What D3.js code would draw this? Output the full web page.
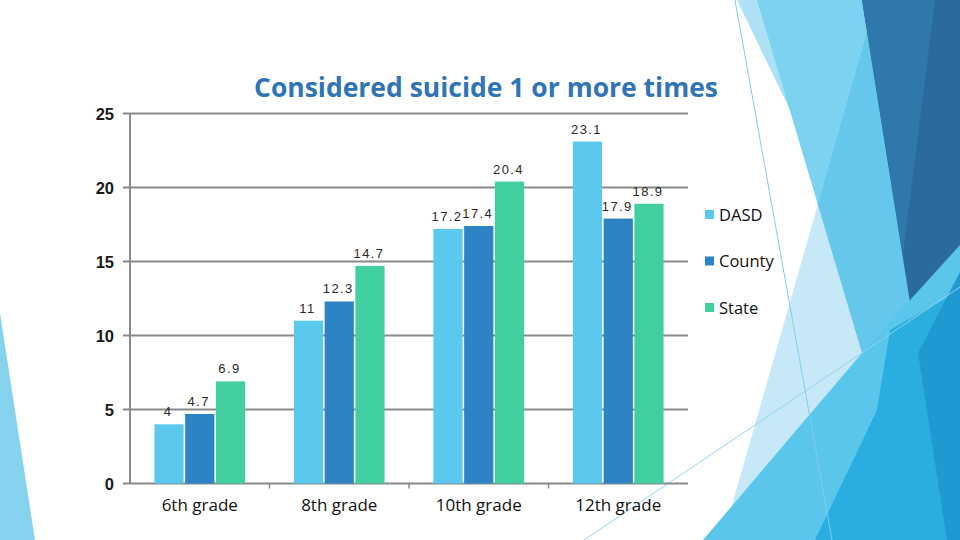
<!DOCTYPE html>
<html>
<head>
<meta charset="utf-8">
<script src="https://cdn.jsdelivr.net/npm/d3@7"></script>
<style>
  html, body { margin: 0; padding: 0; background: #ffffff; }
  svg { display: block; }
</style>
</head>
<body>
<svg id="chart" width="960" height="540"></svg>
<script>
// ---- data ----
const categories = ["6th grade", "8th grade", "10th grade", "12th grade"];
const seriesNames = ["DASD", "County", "State"];
const dasd   = [4, 11, 17.2, 23.1];
const county = [4.7, 12.3, 17.4, 17.9];
const state  = [6.9, 14.7, 20.4, 18.9];
const yTicks = [0, 5, 10, 15, 20, 25];
const titleText = "Considered suicide 1 or more times";

const seriesValues = [dasd, county, state];
const colors = ["#5BC8EE", "#2E83C4", "#41CFA0"];

const svg = d3.select("#chart");

// ---- decorative background (theme shapes) ----
const deco = svg.append("g");
const shapes = [
  { pts: [[0,313],[35,540],[0,540]], fill: "#86D3F0" },
  { pts: [[737,0],[760,0],[790,110]], fill: "#AEE1F5" },
  { pts: [[757,0],[880,0],[930,420],[862,353]], fill: "#7DD2F0" },
  { pts: [[872,15],[960,540],[722,540]], fill: "#28AAE2", op: 0.26 },
  { pts: [[862,0],[960,0],[960,272],[918,353]], fill: "#2A6A9C" },
  { pts: [[862,0],[935,0],[903,255]], fill: "#2F78AC" },
  { pts: [[703,540],[862,353],[960,245],[960,540]], fill: "#5BC6EC" },
  { pts: [[815,540],[877,410],[890,330],[960,290],[960,540]], fill: "#2AAEE0" },
  { pts: [[918,353],[960,272],[960,540],[947,540]], fill: "#1E9AD0" }
];
shapes.forEach(s => {
  deco.append("polygon")
    .attr("points", s.pts.map(p => p.join(",")).join(" "))
    .attr("fill", s.fill)
    .attr("fill-opacity", s.op || 1);
});
deco.append("line").attr("x1", 735).attr("y1", 0).attr("x2", 832).attr("y2", 540)
  .attr("stroke", "#7FCDEA").attr("stroke-width", 1);
deco.append("line").attr("x1", 584).attr("y1", 540).attr("x2", 960).attr("y2", 287)
  .attr("stroke", "#8FD3EE").attr("stroke-width", 1);

// ---- scales ----
const plotLeft = 130, plotRight = 688, plotTop = 113.5, plotBottom = 483.5;
const x0 = d3.scaleBand().domain(categories).range([plotLeft, plotRight])
  .paddingInner(0.35).paddingOuter(0.175);
const x1 = d3.scaleBand().domain(seriesNames).range([0, x0.bandwidth()])
  .paddingInner(0.05);
const y = d3.scaleLinear().domain([0, 25]).range([plotBottom, plotTop]);

// ---- gridlines ----
const g = svg.append("g");
g.selectAll("line.grid").data(yTicks).join("line")
  .attr("class", "grid")
  .attr("x1", plotLeft - 7).attr("x2", plotRight)
  .attr("y1", d => y(d)).attr("y2", d => y(d))
  .attr("stroke", "#898989").attr("stroke-width", 2);

// vertical axis line
g.append("line").attr("x1", plotLeft).attr("x2", plotLeft)
  .attr("y1", y(25)).attr("y2", y(0))
  .attr("stroke", "#898989").attr("stroke-width", 2);

// y tick labels
g.selectAll("text.ytick").data(yTicks).join("text")
  .attr("class", "ytick")
  .attr("x", plotLeft - 16).attr("y", d => y(d) + 6)
  .attr("text-anchor", "end")
  .attr("font-family", "Liberation Sans, Arial, sans-serif")
  .attr("font-size", 16.5).attr("font-weight", "bold")
  .attr("fill", "#1a1a1a")
  .text(d => d);

// x tick marks between categories
const boundaries = categories.slice(1).map(c => x0(c) - x0.step() * x0.paddingInner() / 2);
g.selectAll("line.xtick").data(boundaries).join("line")
  .attr("class", "xtick")
  .attr("x1", d => d).attr("x2", d => d)
  .attr("y1", y(0)).attr("y2", y(0) + 5)
  .attr("stroke", "#898989").attr("stroke-width", 1.5);

// ---- bars ----
const groups = svg.append("g").selectAll("g.cat").data(categories).join("g")
  .attr("class", "cat")
  .attr("transform", c => `translate(${x0(c)},0)`);

groups.each(function(c, ci) {
  const grp = d3.select(this);
  seriesNames.forEach((s, si) => {
    const v = seriesValues[si][ci];
    grp.append("rect")
      .attr("x", x1(s))
      .attr("y", y(v))
      .attr("width", x1.bandwidth())
      .attr("height", y(0) - y(v))
      .attr("fill", colors[si]);
    grp.append("text")
      .attr("x", x1(s) + x1.bandwidth() / 2 - 1)
      .attr("y", y(v) - 8)
      .attr("text-anchor", "middle")
      .attr("font-family", "Liberation Sans, Arial, sans-serif")
      .attr("font-size", 13)
      .attr("letter-spacing", 1.4)
      .attr("fill", "#2a2a2a")
      .text(v);
  });
});

// category labels
svg.append("g").selectAll("text.catlabel").data(categories).join("text")
  .attr("class", "catlabel")
  .attr("x", c => x0(c) + x0.bandwidth() / 2)
  .attr("y", 511)
  .attr("text-anchor", "middle")
  .attr("font-family", "Open Sans, sans-serif")
  .attr("font-size", 17)
  .attr("fill", "#111")
  .text(c => c);

// ---- title ----
svg.append("text")
  .attr("x", 486).attr("y", 97)
  .attr("text-anchor", "middle")
  .attr("font-family", "Open Sans, sans-serif")
  .attr("font-size", 26).attr("font-weight", "bold")
  .attr("fill", "#2F74B5")
  .attr("textLength", 464).attr("lengthAdjust", "spacingAndGlyphs")
  .text(titleText);

// ---- legend ----
const legend = svg.append("g").selectAll("g.leg").data(seriesNames).join("g")
  .attr("class", "leg")
  .attr("transform", (d, i) => `translate(705,${210 + i * 46.5})`);
legend.append("rect").attr("width", 9).attr("height", 9)
  .attr("fill", (d, i) => colors[i]);
legend.append("text").attr("x", 14).attr("y", 10.5)
  .attr("font-family", "Open Sans, sans-serif")
  .attr("font-size", 16.5)
  .attr("fill", "#111")
  .text(d => d);
</script>
</body>
</html>
